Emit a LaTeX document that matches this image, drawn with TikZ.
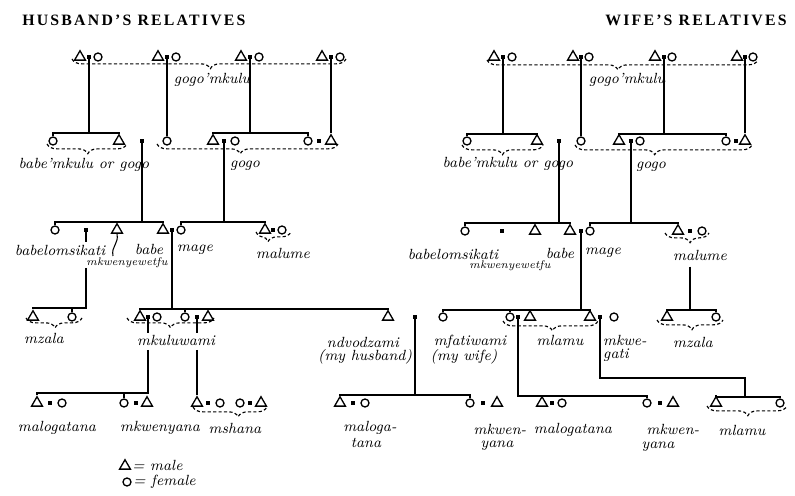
\documentclass[tikz,border=0pt]{standalone}
\usepackage{fontspec}
\usepackage{tikz}
\usetikzlibrary{shapes.geometric, decorations.pathreplacing}
\newfontfamily\headfont[LetterSpace=14]{Liberation Serif}

\begin{document}
\begin{tikzpicture}[
    x=0.02cm, y=-0.02cm,
    male/.style={
        regular polygon,
        regular polygon sides=3,
        draw,
        line width=0.75pt,
        minimum size=0.25cm,
        inner sep=0pt
    },
    female/.style={
        circle,
        draw,
        line width=0.75pt,
        minimum size=0.16cm,
        inner sep=0pt
    },
    wed/.style={
        rectangle,
        fill=black,
        minimum width=0.08cm,
        minimum height=0.065cm,
        inner sep=0pt
    },
    kin/.style={
        line width=0.9pt
    },
    kinbrace/.style={
        decorate,
        decoration={brace, mirror, amplitude=5.5pt, aspect=#1},
        dash pattern=on 1.8pt off 1.3pt,
        line width=0.65pt
    },
    term/.style={
        font=\fontsize{8.4}{9}\selectfont\itshape,
        inner sep=0pt
    },
    smallterm/.style={
        font=\fontsize{6.3}{7}\selectfont\itshape,
        inner sep=0pt
    },
    heading/.style={
        font=\headfont\bfseries\fontsize{9}{11}\selectfont,
        inner sep=0pt
    }
]
    \useasboundingbox (0,0) rectangle (795,496);

    % Headings
    \node[heading, anchor=west] (husbandhead) at (22,20) {HUSBAND’S RELATIVES};
    \node[heading, anchor=east] (wifehead) at (787,20) {WIFE’S RELATIVES};

    % Generation 1: gogo'mkulu
    \node[male] (gAm) at (80,57) {};
    \node[wed] (gAw) at (89,57) {};
    \node[female] (gAf) at (98,57) {};
    \node[male] (gBm) at (158,57) {};
    \node[wed] (gBw) at (167,57) {};
    \node[female] (gBf) at (176,57) {};
    \node[male] (gCm) at (241,57) {};
    \node[wed] (gCw) at (250,57) {};
    \node[female] (gCf) at (259,57) {};
    \node[male] (gDm) at (322,57) {};
    \node[wed] (gDw) at (331,57) {};
    \node[female] (gDf) at (340,57) {};
    \node[male] (gEm) at (494,57) {};
    \node[wed] (gEw) at (503,57) {};
    \node[female] (gEf) at (512,57) {};
    \node[male] (gFm) at (573,57) {};
    \node[wed] (gFw) at (581,57) {};
    \node[female] (gFf) at (589,57) {};
    \node[male] (gGm) at (655,57) {};
    \node[wed] (gGw) at (664,57) {};
    \node[female] (gGf) at (672,57) {};
    \node[male] (gHm) at (737,57) {};
    \node[wed] (gHw) at (745,57) {};
    \node[female] (gHf) at (753,57) {};

    % Generation 2: babe'mkulu or gogo, gogo
    \node[female] (pa1) at (53,141) {};
    \node[male] (pa2) at (119,141) {};
    \node[wed] (paw) at (142,141) {};
    \node[female] (pb1) at (167,141) {};
    \node[male] (pc1) at (213,141) {};
    \node[wed] (pcw) at (224,141) {};
    \node[female] (pc2) at (235,141) {};
    \node[female] (pc3) at (308,141) {};
    \node[wed] (pdw) at (319,141) {};
    \node[male] (pd1) at (331,141) {};
    \node[female] (qe1) at (467,141) {};
    \node[male] (qe2) at (537,141) {};
    \node[wed] (qew) at (559,141) {};
    \node[female] (qf1) at (581,141) {};
    \node[male] (qg1) at (619,141) {};
    \node[wed] (qgw) at (631,141) {};
    \node[female] (qg2) at (640,141) {};
    \node[female] (qg3) at (726,141) {};
    \node[wed] (qhw) at (736,141) {};
    \node[male] (qh1) at (745,141) {};

    % Generation 3: parents, their sisters and brothers
    \node[female] (ra1) at (55,230) {};
    \node[wed] (raw) at (86,230) {};
    \node[male] (ra2) at (117,230) {};
    \node[male] (rb1) at (163,230) {};
    \node[wed] (rbw) at (172,230) {};
    \node[female] (rb2) at (181,230) {};
    \node[male] (rc1) at (265,230) {};
    \node[wed] (rcw) at (273,230) {};
    \node[female] (rc2) at (282,230) {};
    \node[female] (sa1) at (465,231) {};
    \node[wed] (saw) at (502,231) {};
    \node[male] (sa2) at (535,231) {};
    \node[male] (sb1) at (570,231) {};
    \node[wed] (sbw) at (581,231) {};
    \node[female] (sb2) at (590,231) {};
    \node[male] (sc1) at (678,231) {};
    \node[wed] (scw) at (690,231) {};
    \node[female] (sc2) at (702,231) {};

    % Generation 4: husband, wife and cousins
    \node[male] (ta1) at (33,317) {};
    \node[female] (ta2) at (72,317) {};
    \node[male] (tb1) at (140,317) {};
    \node[wed] (tbw) at (148,317) {};
    \node[female] (tb2) at (157,317) {};
    \node[female] (tc1) at (185,317) {};
    \node[wed] (tcw) at (197,317) {};
    \node[male] (tc2) at (208,317) {};
    \node[male] (husband) at (388,317) {};
    \node[wed] (hwed) at (415,317) {};
    \node[female] (wife) at (443,317) {};
    \node[female] (ua1) at (510,317) {};
    \node[wed] (uaw) at (518,317) {};
    \node[male] (ua2) at (530,317) {};
    \node[male] (ub1) at (590,317) {};
    \node[wed] (ubw) at (600,317) {};
    \node[female] (ub2) at (614,317) {};
    \node[male] (uc1) at (667,317) {};
    \node[female] (uc2) at (716,317) {};

    % Generation 5: children
    \node[male] (va1) at (37,403) {};
    \node[wed] (vaw) at (50,403) {};
    \node[female] (va2) at (62,403) {};
    \node[female] (vb1) at (124,403) {};
    \node[wed] (vbw) at (136,403) {};
    \node[male] (vb2) at (147,403) {};
    \node[male] (vc1) at (197,403) {};
    \node[wed] (vcw) at (208,403) {};
    \node[female] (vc2) at (220,403) {};
    \node[female] (vd1) at (240,403) {};
    \node[wed] (vdw) at (250,403) {};
    \node[male] (vd2) at (261,403) {};
    \node[male] (wa1) at (340,403) {};
    \node[wed] (waw) at (353,403) {};
    \node[female] (wa2) at (365,403) {};
    \node[female] (wb1) at (470,403) {};
    \node[wed] (wbw) at (483,403) {};
    \node[male] (wb2) at (497,403) {};
    \node[male] (xa1) at (542,403) {};
    \node[wed] (xaw) at (552,403) {};
    \node[female] (xa2) at (562,403) {};
    \node[female] (xb1) at (647,403) {};
    \node[wed] (xbw) at (660,403) {};
    \node[male] (xb2) at (673,403) {};
    \node[male] (xc1) at (716,403) {};
    \node[female] (xc2) at (780,403) {};

    % Kin terms
    \node[term] (gogomkuluL) at (212,80) {gogo’mkulu};
    \node[term] (gogomkuluR) at (627,80) {gogo’mkulu};
    \node[term] (babemkuluL) at (84,165) {babe’mkulu or gogo};
    \node[term] (gogoL) at (245,166) {gogo};
    \node[term] (babemkuluR) at (508,164) {babe’mkulu or gogo};
    \node[term] (gogoR) at (651,167) {gogo};
    \node[term] (babelomL) at (60,250) {babelomsikati};
    \node[term] (babeL) at (149,249) {babe};
    \node[smallterm] (mkwenyeL) at (127,263) {mkwenyewetfu};
    \node[term] (mageL) at (195,250) {mage};
    \node[term] (malumeL) at (283,253) {malume};
    \node[term] (babelomR) at (453,254) {babelomsikati};
    \node[smallterm] (mkwenyeR) at (510,266) {mkwenyewetfu};
    \node[term] (babeR) at (560,253) {babe};
    \node[term] (mageR) at (603,253) {mage};
    \node[term] (malumeR) at (700,255) {malume};
    \node[term] (mzalaL) at (44,338) {mzala};
    \node[term] (mkuluwami) at (176,340) {mkuluwami};
    \node[term] (ndvodzami) at (363,342) {ndvodzami};
    \node[term] (myhusband) at (365,357) {(my husband)};
    \node[term] (mfatiwami) at (470,342) {mfatiwami};
    \node[term] (mywife) at (464,357) {(my wife)};
    \node[term] (mlamuA) at (560,340) {mlamu};
    \node[term] (mkweA) at (625,340) {mkwe-};
    \node[term] (mkweB) at (616,355) {gati};
    \node[term] (mzalaR) at (693,342) {mzala};
    \node[term] (malogL) at (57,428) {malogatana};
    \node[term] (mkwenyanaL) at (160,428) {mkwenyana};
    \node[term] (mshana) at (235,428) {mshana};
    \node[term] (malogA) at (370,428) {maloga-};
    \node[term] (malogB) at (366,443) {tana};
    \node[term] (mkwenA) at (500,429) {mkwen-};
    \node[term] (mkwenB) at (497,446) {yana};
    \node[term] (malogR) at (573,430) {malogatana};
    \node[term] (mkwenC) at (673,429) {mkwen-};
    \node[term] (mkwenD) at (658,447) {yana};
    \node[term] (mlamuB) at (742,430) {mlamu};

    % Key
    \node[male] (keymale) at (125,466) {};
    \node[term, anchor=west] (keymaletxt) at (132,465) {= male};
    \node[female] (keyfemale) at (127,482) {};
    \node[term, anchor=west] (keyfemaletxt) at (133,482) {= female};

    % Sibling bars and line breaks
    \coordinate (barA) at (89,133);
    \coordinate (barC) at (250,133);
    \coordinate (barE) at (503,134);
    \coordinate (barG) at (664,134);
    \coordinate (barAB) at (142,222);
    \coordinate (barC1) at (224,222);
    \coordinate (barEF) at (559,223);
    \coordinate (barG1) at (631,223);
    \coordinate (raTop) at (86,242);
    \coordinate (raBot) at (86,268);
    \coordinate (barRA) at (86,308);
    \coordinate (barRB) at (172,309);
    \coordinate (barSB) at (581,310);
    \coordinate (barSC) at (690,310);
    \coordinate (tbTop) at (148,333);
    \coordinate (tbBot) at (148,350);
    \coordinate (tcTop) at (197,333);
    \coordinate (tcBot) at (197,350);
    \coordinate (barTB) at (148,393);
    \coordinate (barHW) at (415,395);
    \coordinate (barUA) at (518,396);
    \coordinate (ubTurn) at (600,378);
    \coordinate (ubCorner) at (745,378);
    \coordinate (barUB) at (745,397);
    \coordinate (ptr) at (113,256);

    % Descent lines
    \draw[kin] (gAw.south) -- (barA);
    \draw[kin] (pa1.north) |- (barA) -| (pa2.north);
    \draw[kin] (gBw.south) -- (pb1.north);
    \draw[kin] (gCw.south) -- (barC);
    \draw[kin] (pc1.north) |- (barC) -| (pc3.north);
    \draw[kin] (gDw.south) -- (pd1.north);
    \draw[kin] (gEw.south) -- (barE);
    \draw[kin] (qe1.north) |- (barE) -| (qe2.north);
    \draw[kin] (gFw.south) -- (qf1.north);
    \draw[kin] (gGw.south) -- (barG);
    \draw[kin] (qg1.north) |- (barG) -| (qg3.north);
    \draw[kin] (gHw.south) -- (qh1.north);

    \draw[kin] (paw.south) -- (barAB);
    \draw[kin] (ra1.north) |- (barAB) -| (rb1.north);
    \draw[kin] (ra2.north) -- (ra2.north |- barAB);
    \draw[kin] (pcw.south) -- (barC1);
    \draw[kin] (rb2.north) |- (barC1) -| (rc1.north);
    \draw[kin] (qew.south) -- (barEF);
    \draw[kin] (sa1.north) |- (barEF) -| (sb1.north);
    \draw[kin] (sa2.north) -- (sa2.north |- barEF);
    \draw[kin] (qgw.south) -- (barG1);
    \draw[kin] (sb2.north) |- (barG1) -| (sc1.north);

    \draw[kin] (raw.south) -- (raTop);
    \draw[kin] (raBot) -- (barRA) -| (ta1.north);
    \draw[kin] (ta2.north) -- (ta2.north |- barRA);
    \draw[kin] (rbw.south) -- (barRB);
    \draw[kin] (tb1.north) |- (barRB) -| (husband.north);
    \draw[kin] (tc1.north) -- (tc1.north |- barRB);
    \draw[kin] (sbw.south) -- (barSB);
    \draw[kin] (wife.north) |- (barSB) -| (ub1.north);
    \draw[kin] (ua1.north) -- (ua1.north |- barSB);
    \draw[kin] ([yshift=-0.12cm]scw |- malumeR.south) -- (barSC);
    \draw[kin] (uc1.north) |- (barSC) -| (uc2.north);

    \draw[kin] (tbw.south) -- (tbTop);
    \draw[kin] (tbBot) -- (barTB) -| (va1.north);
    \draw[kin] (vb1.north) -- (vb1.north |- barTB);
    \draw[kin] (tcw.south) -- (tcTop);
    \draw[kin] (tcBot) -- (vc1.north);
    \draw[kin] (hwed.south) -- (barHW);
    \draw[kin] (wa1.north) |- (barHW) -| (wb1.north);
    \draw[kin] (uaw.south) -- (barUA) -| (xb1.north);
    \draw[kin] (xa1.north) -- (xa1.north |- barUA);
    \draw[kin] (ubw.south) -- (ubTurn) -- (ubCorner) -- (barUB);
    \draw[kin] (xc1.north) |- (barUB) -| (xc2.north);
    \draw[line width=0.6pt] (ra2.south) .. controls (119,244) and (111,246) .. (ptr);

    % Dashed braces
    \draw[kinbrace=0.505] (72,59) -- (346,59);
    \draw[kinbrace=0.483] (487,60) -- (758,60);
    \draw[kinbrace=0.51] (47,144) -- (127,144);
    \draw[kinbrace=0.46] (157,144) -- (338,144);
    \draw[kinbrace=0.5] (462,145) -- (543,145);
    \draw[kinbrace=0.45] (575,145) -- (752,145);
    \draw[kinbrace=0.34] (256,232) -- (291,232);
    \draw[kinbrace=0.57] (665,233) -- (709,233);
    \draw[kinbrace=0.52] (26,318) -- (82,318);
    \draw[kinbrace=0.5] (127,318) -- (214,318);
    \draw[kinbrace=0.52] (503,321) -- (598,321);
    \draw[kinbrace=0.53] (657,320) -- (723,320);
    \draw[kinbrace=0.61] (193,407) -- (267,407);
    \draw[kinbrace=0.51] (707,406) -- (787,406);

\end{tikzpicture}
\end{document}
